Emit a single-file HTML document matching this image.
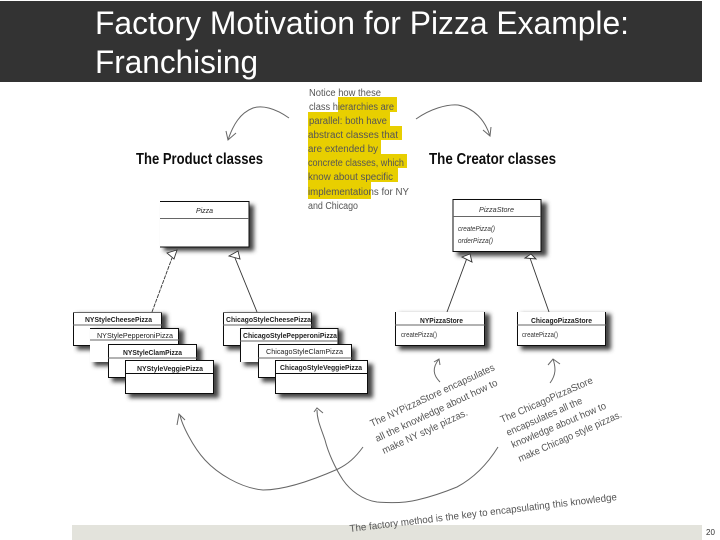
<!DOCTYPE html>
<html><head><meta charset="utf-8"><style>
html,body{margin:0;padding:0;background:#fff}
svg{display:block}
.h{font-family:"Liberation Sans",sans-serif;font-size:32px;fill:#fff}
.n{font-family:"Liberation Sans",sans-serif;font-size:10px;fill:#555}
.t{font-family:"Liberation Sans",sans-serif;font-size:16px;font-weight:bold;fill:#111}
.b{font-family:"Liberation Sans",sans-serif;font-size:7.500px;font-weight:bold;fill:#222}
.m{font-family:"Liberation Sans",sans-serif;font-size:7px;fill:#333}
.i{font-style:italic;font-weight:normal}
.c{fill:none;stroke:#666;stroke-width:1}
.a{fill:#fff;stroke:#333;stroke-width:.9}
.l{fill:none;stroke:#333;stroke-width:.9}
.s{fill:#444;filter:url(#bl)}
.w{fill:#fff}
.k{stroke:#111;stroke-width:1;fill:none}
.d{stroke:#666;stroke-width:1}
</style></head><body>
<svg width="720" height="540" viewBox="0 0 720 540" xmlns="http://www.w3.org/2000/svg">
<defs>
<filter id="bl" x="-20%" y="-30%" width="140%" height="160%"><feGaussianBlur stdDeviation="2.200"/></filter>
<filter id="so" x="0" y="0" width="100%" height="100%"><feGaussianBlur stdDeviation="0.300"/></filter>
</defs>
<rect width="720" height="540" fill="#fff"/>
<rect y="1" width="702" height="81" fill="#333"/>
<text class="h" x="95" y="34" textLength="534" lengthAdjust="spacingAndGlyphs">Factory Motivation for Pizza Example:</text>
<text class="h" x="95" y="73" textLength="163" lengthAdjust="spacingAndGlyphs">Franchising</text>
<rect x="72" y="525" width="630" height="15" fill="#e3e3dc"/>
<text x="706" y="535" font-family="Liberation Sans,sans-serif" font-size="8" fill="#333">20</text>

<g filter="url(#so)">
<g fill="#e8cf00">
<rect x="338" y="97" width="59" height="15"/><rect x="308" y="112" width="82" height="14"/>
<rect x="308" y="126" width="94" height="14"/><rect x="308" y="140" width="73" height="14"/>
<rect x="308" y="154" width="99" height="14"/><rect x="308" y="168" width="90" height="14"/>
<rect x="308" y="182" width="63" height="17"/>
</g>
<text class="n" x="309" y="96" textLength="72" lengthAdjust="spacingAndGlyphs">Notice how these</text>
<text class="n" x="309" y="110" textLength="85" lengthAdjust="spacingAndGlyphs">class hierarchies are</text>
<text class="n" x="309" y="124" textLength="78" lengthAdjust="spacingAndGlyphs">parallel: both have</text>
<text class="n" x="308" y="138" textLength="90" lengthAdjust="spacingAndGlyphs">abstract classes that</text>
<text class="n" x="308" y="152" textLength="70" lengthAdjust="spacingAndGlyphs">are extended by</text>
<text class="n" x="308" y="166" textLength="96" lengthAdjust="spacingAndGlyphs">concrete classes, which</text>
<text class="n" x="308" y="180" textLength="85" lengthAdjust="spacingAndGlyphs">know about specific</text>
<text class="n" x="308" y="195" textLength="101" lengthAdjust="spacingAndGlyphs">implementations for NY</text>
<text class="n" x="308" y="209" textLength="50" lengthAdjust="spacingAndGlyphs">and Chicago</text>

<text class="t" x="136" y="164" textLength="127" lengthAdjust="spacingAndGlyphs">The Product classes</text>
<text class="t" x="429" y="164" textLength="127" lengthAdjust="spacingAndGlyphs">The Creator classes</text>

<path class="c" d="M289 118C275 108 262 105 253 108C240 113 233 125 228 140"/>
<path class="c" d="M226 131L228 140L236 133"/>
<path class="c" d="M416 119C430 109 447 104 458 105C474 108 485 120 490 136"/>
<path class="c" d="M483 130L490 136L491 127"/>

<!-- Pizza -->
<rect class="s" x="164" y="205" width="90" height="46"/>
<rect class="w" x="160" y="201" width="89" height="46"/>
<path class="k" d="M160 201.500H249M249 201V247H160"/>
<path class="d" d="M160 218.500H249"/>
<text class="b i" x="196" y="213" textLength="17" lengthAdjust="spacingAndGlyphs">Pizza</text>

<!-- PizzaStore -->
<rect class="s" x="457" y="203" width="90" height="53"/>
<rect class="w" x="453" y="199" width="88" height="53"/>
<rect class="k" x="453" y="199.500" width="88" height="52"/>
<path class="d" d="M453 216.500H541"/>
<text class="m i" x="479" y="212" textLength="35" lengthAdjust="spacingAndGlyphs">PizzaStore</text>
<text class="m i" x="458" y="231" textLength="37" lengthAdjust="spacingAndGlyphs">createPizza()</text>
<text class="m i" x="458" y="243" textLength="35" lengthAdjust="spacingAndGlyphs">orderPizza()</text>

<!-- Inheritance arrows -->
<path class="l" d="M152 312L172 258" stroke-dasharray="4 1"/>
<path class="a" d="M167 253L177 250L174 259Z"/>
<path class="l" d="M257 312L235 258"/>
<path class="a" d="M229 256L238 251L240 259Z"/>
<path class="l" d="M447 312L467 258"/>
<path class="a" d="M462 257L470 254L472 262Z"/>
<path class="l" d="M549 312L530 258"/>
<path class="a" d="M525 258L531 254L536 259Z"/>

<!-- NY stack -->
<rect class="s" x="77" y="314" width="90" height="36"/>
<rect class="w" x="73" y="312" width="89" height="34"/>
<path class="k" d="M73.500 312V345.500H161.500V312" /><path class="d" d="M73 312.500H162M73 325H162"/>
<text class="b" x="85" y="322" textLength="67" lengthAdjust="spacingAndGlyphs">NYStyleCheesePizza</text>

<rect class="s" x="94" y="330" width="90" height="36"/>
<rect class="w" x="90" y="328" width="89" height="34"/>
<path class="k" d="M90 328.500H178.500V362"/><path class="d" d="M90 340H179"/>
<text class="b" style="font-weight:normal" x="97" y="338" textLength="76" lengthAdjust="spacingAndGlyphs">NYStylePepperoniPizza</text>

<rect class="s" x="112" y="348" width="90" height="34"/>
<rect class="w" x="108" y="344" width="89" height="34"/>
<rect class="k" x="108.500" y="344.500" width="88" height="33"/><path class="d" d="M108 358H197"/>
<text class="b" x="123" y="355" textLength="59" lengthAdjust="spacingAndGlyphs">NYStyleClamPizza</text>

<rect class="s" x="129" y="364" width="90" height="34"/>
<rect class="w" x="125" y="360" width="89" height="34"/>
<rect class="k" x="125.500" y="360.500" width="88" height="33"/><path class="k" d="M125 373.500H214"/>
<text class="b" x="137" y="371" textLength="66" lengthAdjust="spacingAndGlyphs">NYStyleVeggiePizza</text>

<!-- Chicago stack -->
<rect class="s" x="227" y="314" width="90" height="36"/>
<rect class="w" x="223" y="312" width="89" height="34"/>
<path class="k" d="M223.500 312V345.500H311.500V312"/><path class="d" d="M223 312.500H312M223 325H312"/>
<text class="b" x="226" y="322" textLength="85" lengthAdjust="spacingAndGlyphs">ChicagoStyleCheesePizza</text>

<rect class="s" x="244" y="330" width="99" height="36"/>
<rect class="w" x="240" y="328" width="98" height="34"/>
<path class="k" d="M240.500 362V328.500H338V344"/><path class="d" d="M240 341H338"/>
<text class="b" x="243" y="338" textLength="94" lengthAdjust="spacingAndGlyphs">ChicagoStylePepperoniPizza</text>

<rect class="s" x="262" y="348" width="94" height="34"/>
<rect class="w" x="258" y="344" width="94" height="34"/>
<rect class="k" x="258.500" y="344.500" width="93" height="33"/><path class="d" d="M258 358H352"/>
<text class="b" style="font-weight:normal" x="266" y="354" textLength="77" lengthAdjust="spacingAndGlyphs">ChicagoStyleClamPizza</text>

<rect class="s" x="279" y="364" width="94" height="34"/>
<rect class="w" x="275" y="360" width="93" height="34"/>
<rect class="k" x="275.500" y="360.500" width="92" height="33"/><path class="k" d="M275 373.500H368"/>
<text class="b" x="280" y="370" textLength="82" lengthAdjust="spacingAndGlyphs">ChicagoStyleVeggiePizza</text>

<!-- Stores -->
<rect class="s" x="399" y="314" width="91" height="36"/>
<rect class="w" x="395" y="312" width="90" height="34"/>
<path class="k" d="M395.500 312V345.500H484.500V312"/><path class="d" d="M395 325H485"/>
<text class="b" x="420" y="323" textLength="43" lengthAdjust="spacingAndGlyphs">NYPizzaStore</text>
<text class="m" x="401" y="337" textLength="36" lengthAdjust="spacingAndGlyphs">createPizza()</text>

<rect class="s" x="521" y="314" width="90" height="36"/>
<rect class="w" x="517" y="312" width="89" height="34"/>
<path class="k" d="M517.500 312V345.500H605.500V312"/><path class="d" d="M517 325H606"/>
<text class="b" x="531" y="323" textLength="61" lengthAdjust="spacingAndGlyphs">ChicagoPizzaStore</text>
<text class="m" x="522" y="337" textLength="36" lengthAdjust="spacingAndGlyphs">createPizza()</text>

<!-- Small arrows -->
<path class="c" d="M440 382C433 375 432 368 439 359"/><path class="c" d="M434 362L439 359L440 365"/>
<path class="c" d="M550 383C556 375 556 368 553 359"/><path class="c" d="M548 365L553 359L560 364"/>

<!-- Curves -->
<path class="c" d="M363 447C355 458 348 464 338 469C313 480 285 490 263 490C240 488 217 473 205 460C193 447 182 425 180 415"/>
<path class="c" d="M177 425L179 414L185 420"/>
<path class="c" d="M498 447C485 468 470 480 457 487C440 494 430 497 417 500C405 503 390 503 377 502C362 500 350 490 343 480C335 468 328 452 325 440C321 428 317 420 317 410"/>
<path class="c" d="M314 412L317 408L323 413"/>

<!-- Handwritten rotated -->
<text class="n" transform="translate(372 427) rotate(-24.900)" textLength="136" lengthAdjust="spacingAndGlyphs">The NYPizzaStore encapsulates</text>
<text class="n" transform="translate(377 442) rotate(-25.200)" textLength="134" lengthAdjust="spacingAndGlyphs">all the knowledge about how to</text>
<text class="n" transform="translate(384 454) rotate(-24.900)" textLength="93" lengthAdjust="spacingAndGlyphs">make NY style pizzas.</text>
<text class="n" transform="translate(502 423) rotate(-23.700)" textLength="100" lengthAdjust="spacingAndGlyphs">The ChicagoPizzaStore</text>
<text class="n" transform="translate(508 436) rotate(-23.700)" textLength="82" lengthAdjust="spacingAndGlyphs">encapsulates all the</text>
<text class="n" transform="translate(513 448) rotate(-23)" textLength="102" lengthAdjust="spacingAndGlyphs">knowledge about how to</text>
<text class="n" transform="translate(520 462) rotate(-23.800)" textLength="112" lengthAdjust="spacingAndGlyphs">make Chicago style pizzas.</text>
<text class="n" transform="translate(350 532) rotate(-6.800)" textLength="269" lengthAdjust="spacingAndGlyphs">The factory method is the key to encapsulating this knowledge</text>
</g>
</svg>
</body></html>
